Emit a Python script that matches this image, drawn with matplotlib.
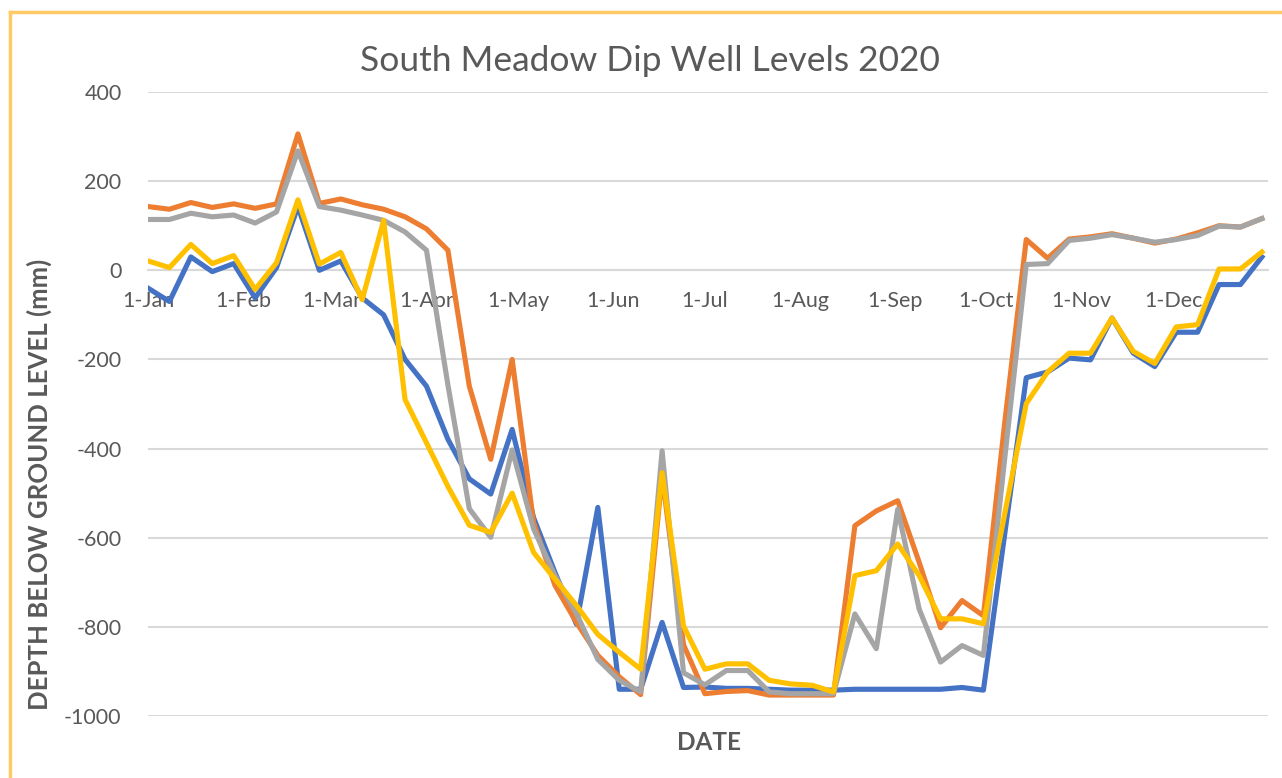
import matplotlib
matplotlib.use("Agg")
import matplotlib.pyplot as plt
from matplotlib.lines import Line2D
import pandas as pd

# weekly dip well readings, 2020 (mm, relative to ground level)
dates = pd.date_range("2020-01-01", periods=53, freq="7D")

well_blue = [-40, -70, 30, -3, 15, -62, 6, 143, 0, 21, -62, -100, -200, -260, -379,
             -468, -502, -357, -555, -678, -794, -532, -940, -940, -790, -936, -935,
             -938, -938, -940, -942, -942, -942, -940, -940, -940, -940, -940, -936,
             -942, -590, -241, -228, -197, -201, -107, -186, -216, -139, -139, -32,
             -32, 30]
well_orange = [143, 137, 152, 141, 149, 139, 149, 306, 150, 160, 147, 137, 120, 93, 45,
               -260, -424, -200, -566, -707, -790, -864, -912, -952, -460, -840, -950,
               -945, -943, -953, -953, -953, -953, -573, -540, -517, -655, -802, -741,
               -775, -340, 69, 27, 70, 75, 82, 72, 61, 70, 84, 100, 97, 116]
well_gray = [114, 114, 128, 120, 124, 106, 131, 268, 143, 135, 124, 112, 86, 45, -257,
             -535, -599, -403, -580, -685, -770, -873, -920, -946, -405, -903, -930,
             -898, -898, -946, -950, -950, -950, -771, -849, -536, -760, -879, -842,
             -864, -420, 13, 15, 67, 72, 80, 72, 63, 69, 78, 99, 97, 116]
well_yellow = [21, 6, 58, 15, 33, -43, 17, 158, 14, 40, -66, 112, -290, -387, -485,
               -572, -588, -500, -633, -693, -752, -817, -857, -895, -454, -798, -895,
               -883, -883, -920, -928, -931, -946, -685, -674, -614, -685, -782, -782,
               -793, -545, -299, -228, -186, -186, -107, -182, -209, -127, -122, 3, 3, 41]

month_ticks = pd.date_range("2020-01-01", periods=12, freq="MS")
month_labels = ["1-Jan", "1-Feb", "1-Mar", "1-Apr", "1-May", "1-Jun",
                "1-Jul", "1-Aug", "1-Sep", "1-Oct", "1-Nov", "1-Dec"]
y_ticks = [400, 200, 0, -200, -400, -600, -800, -1000]

plt.rcParams['font.family'] = ['Lato', 'DejaVu Sans']
plt.rcParams['axes.unicode_minus'] = False
txt = '#595959'
grid = '#D9D9D9'

W, H = 1282, 778
fig = plt.figure(figsize=(W / 100, H / 100), dpi=100)
ax = fig.add_axes([148 / W, 1 - 716 / H, (1268 - 148) / W, (716 - 92) / H])

colours = ['#4472C4', '#ED7D31', '#A5A5A5', '#FFC000']
for series, c in zip([well_blue, well_orange, well_gray, well_yellow], colours):
    ax.plot(dates, series, color=c, lw=3.7, zorder=3)

ax.set_ylim(-1000, 400)
ax.set_xlim(pd.Timestamp("2020-01-01"), pd.Timestamp("2021-01-01"))
ax.set_yticks(y_ticks)
ax.set_xticks(month_ticks)
ax.set_xticklabels(month_labels)
ax.yaxis.grid(True, color=grid, lw=1.5, zorder=0)
ax.set_axisbelow(True)

for s in ['top', 'right', 'left']:
    ax.spines[s].set_visible(False)
ax.spines['bottom'].set_position(('data', 0))
ax.spines['bottom'].set_color(grid)
ax.spines['bottom'].set_linewidth(1.5)
ax.spines['bottom'].set_zorder(0)

ax.tick_params(axis='both', length=0, labelsize=15.5, labelcolor=txt)
ax.tick_params(axis='x', pad=15)
ax.tick_params(axis='y', pad=19)

fig.text(650 / W, 1 - 61 / H, "South Meadow Dip Well Levels 2020", ha='center', va='center',
         fontsize=25.5, color=txt)
fig.text(709 / W, 1 - 742 / H, "DATE", ha='center', va='center',
         fontsize=17.5, color=txt, fontweight='bold')
fig.text(39 / W, 1 - 484 / H, "DEPTH BELOW GROUND LEVEL (mm)", ha='center', va='center',
         rotation=90, fontsize=18.5, color=txt, fontweight='bold')

# chart frame (only top and left edges are inside the picture)
fig.add_artist(Line2D([10 / W, 1.0], [1 - 12 / H, 1 - 12 / H], transform=fig.transFigure,
                      color='#FFC966', lw=2.5))
fig.add_artist(Line2D([10 / W, 10 / W], [0, 1 - 12 / H], transform=fig.transFigure,
                      color='#FFC966', lw=2.5))

fig.savefig("out.png", dpi=100)
